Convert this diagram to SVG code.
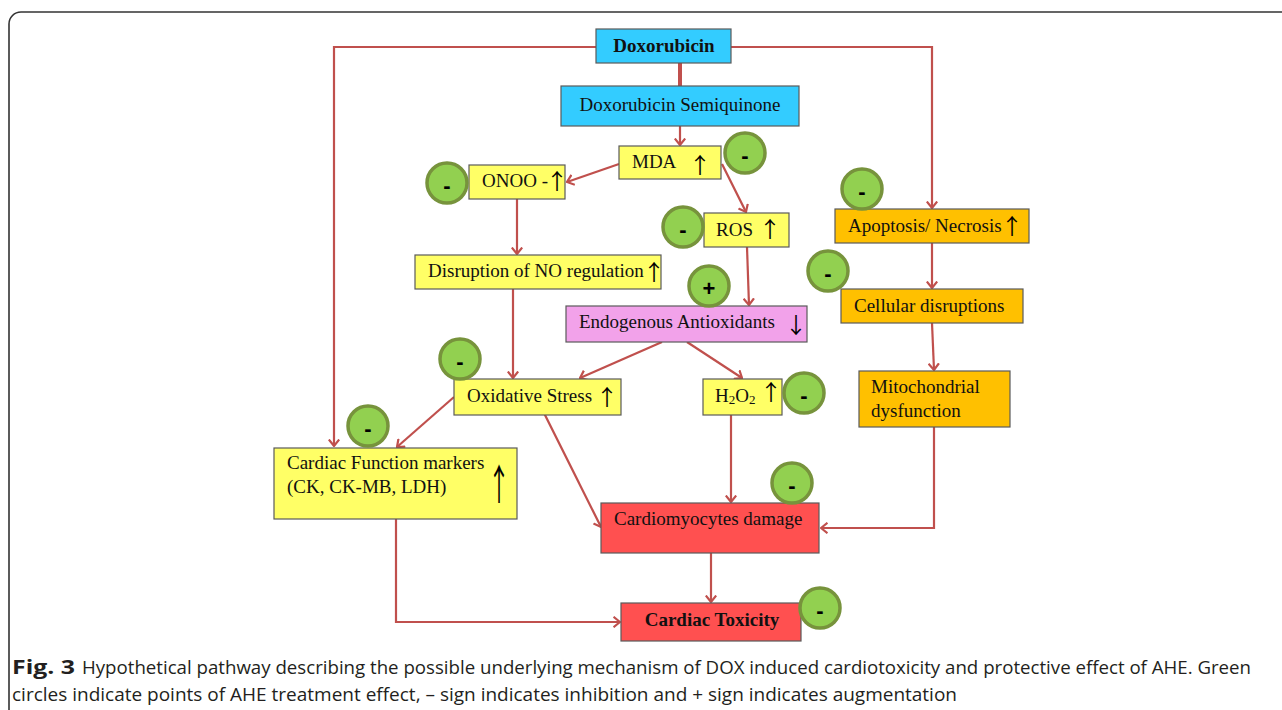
<svg xmlns="http://www.w3.org/2000/svg" width="1282" height="710" viewBox="0 0 1282 710">
<style>
.box{stroke:#5a5a5a;stroke-width:1.2}
.cyan{fill:#33CCFF}
.yel{fill:#FFFF66}
.pink{fill:#F2A2EA}
.org{fill:#FFC000}
.red{fill:#FF5050}
.t{font-family:"Liberation Serif","Times New Roman",serif;font-size:19px;fill:#111}
.b{font-weight:bold}
.ar{font-family:"Noto Sans CJK SC","DejaVu Sans",sans-serif;font-size:22px;fill:#000;text-anchor:middle}
.c{fill:#92D050;stroke:#77933C;stroke-width:3.5}
.s{font-family:"Liberation Sans",Arial,sans-serif;font-weight:bold;font-size:22px;text-anchor:middle;fill:#000}
.ln{fill:none;stroke:#C0504D;stroke-width:2.2}
.cap{font-family:"Open Sans","Liberation Sans",sans-serif;font-size:19px;fill:#231F20}
</style>
<defs>
<marker id="ah" viewBox="0 0 8 12" refX="7" refY="6" markerWidth="8" markerHeight="12" markerUnits="userSpaceOnUse" orient="auto">
<path d="M0.5,0.8 L7,6 L0.5,11.2" fill="none" stroke="#C0504D" stroke-width="2.2"/>
</marker>
</defs>
<rect x="9" y="12" width="1300" height="730" rx="12" fill="#fff" stroke="#333" stroke-width="1.6"/>

<g id="connectors">
<path class="ln" d="M596,47 H334 V446" marker-end="url(#ah)"/>
<path class="ln" d="M731,47 H932 V208" marker-end="url(#ah)"/>
<path class="ln" d="M680,63 V86" style="stroke-width:4"/>
<path class="ln" d="M680,126 V145" marker-end="url(#ah)"/>
<path class="ln" d="M619,164 L567,182" marker-end="url(#ah)"/>
<path class="ln" d="M722,164 L746,212" marker-end="url(#ah)"/>
<path class="ln" d="M517,199 V254" marker-end="url(#ah)"/>
<path class="ln" d="M747,247 L749,305" marker-end="url(#ah)"/>
<path class="ln" d="M513,289 V378" marker-end="url(#ah)"/>
<path class="ln" d="M662,342 L580,378" marker-end="url(#ah)"/>
<path class="ln" d="M687,342 L742,378" marker-end="url(#ah)"/>
<path class="ln" d="M454,397 L397,447" marker-end="url(#ah)"/>
<path class="ln" d="M544,413 L601,527" marker-end="url(#ah)"/>
<path class="ln" d="M731,415 V502" marker-end="url(#ah)"/>
<path class="ln" d="M932,243 V288" marker-end="url(#ah)"/>
<path class="ln" d="M932,323 L934,370" marker-end="url(#ah)"/>
<path class="ln" d="M934,427 V528 H821" marker-end="url(#ah)"/>
<path class="ln" d="M396,519 V622 H620" marker-end="url(#ah)"/>
<path class="ln" d="M711,553 V602" marker-end="url(#ah)"/>
</g>

<g id="doxorubicin">
<rect class="box cyan" x="596" y="29" width="135" height="34"/>
<text class="t b" x="664" y="52" text-anchor="middle">Doxorubicin</text>
</g>
<g id="semiquinone">
<rect class="box cyan" x="561" y="86" width="238" height="40"/>
<text class="t" x="680" y="111" text-anchor="middle">Doxorubicin Semiquinone</text>
</g>
<g id="mda">
<rect class="box yel" x="619" y="146" width="102" height="33"/>
<text class="t" x="632" y="168">MDA<tspan class="ar" x="700" y="173">↑</tspan></text>
</g>
<g id="onoo">
<rect class="box yel" x="469" y="165" width="96" height="34"/>
<text class="t" x="482" y="187">ONOO -<tspan class="ar" x="557" y="189">↑</tspan></text>
</g>
<g id="ros">
<rect class="box yel" x="704" y="213" width="85" height="34"/>
<text class="t" x="716" y="236">ROS<tspan class="ar" x="770" y="237">↑</tspan></text>
</g>
<g id="disruption">
<rect class="box yel" x="415" y="255" width="246" height="34"/>
<text class="t" x="428" y="277">Disruption of NO regulation<tspan class="ar" x="654" y="280">↑</tspan></text>
</g>
<g id="endogenous">
<rect class="box pink" x="566" y="306" width="241" height="36"/>
<text class="t" x="579" y="328">Endogenous Antioxidants<tspan class="ar" x="796" y="333">↓</tspan></text>
</g>
<g id="oxidative">
<rect class="box yel" x="454" y="379" width="167" height="36"/>
<text class="t" x="467" y="402">Oxidative Stress<tspan class="ar" x="607" y="405">↑</tspan></text>
</g>
<g id="h2o2">
<rect class="box yel" x="703" y="379" width="79" height="36"/>
<text class="t" x="715" y="402">H<tspan font-size="13" dy="2">2</tspan><tspan dy="-2">O</tspan><tspan font-size="13" dy="2">2</tspan><tspan class="ar" x="771" y="400">↑</tspan></text>
</g>
<g id="apoptosis">
<rect class="box org" x="835" y="209" width="194" height="34"/>
<text class="t" x="848" y="232">Apoptosis/ Necrosis<tspan class="ar" x="1012" y="234">↑</tspan></text>
</g>
<g id="cellular">
<rect class="box org" x="841" y="289" width="182" height="34"/>
<text class="t" x="854" y="312">Cellular disruptions</text>
</g>
<g id="mitochondrial">
<rect class="box org" x="859" y="371" width="151" height="56"/>
<text class="t" x="871" y="393">Mitochondrial</text>
<text class="t" x="871" y="417">dysfunction</text>
</g>
<g id="cardiac-function">
<rect class="box yel" x="274" y="448" width="243" height="71"/>
<text class="t" x="287" y="469">Cardiac Function markers</text>
<text class="t" x="287" y="493">(CK, CK-MB, LDH)</text>
<text class="ar" transform="translate(499,500) scale(1,1.9)">↑</text>
</g>
<g id="cardiomyocytes">
<rect class="box red" x="601" y="503" width="218" height="50"/>
<text class="t" x="614" y="525">Cardiomyocytes damage</text>
</g>
<g id="cardiac-toxicity">
<rect class="box red" x="621" y="603" width="180" height="38"/>
<text class="t b" x="712" y="626" text-anchor="middle">Cardiac Toxicity</text>
</g>

<g id="effects">
<circle class="c" cx="745" cy="153" r="20"/><text class="s" x="745" y="163">-</text>
<circle class="c" cx="447" cy="183" r="20"/><text class="s" x="447" y="193">-</text>
<circle class="c" cx="683" cy="227" r="20"/><text class="s" x="683" y="237">-</text>
<circle class="c" cx="709" cy="286" r="20"/><text class="s" x="709" y="296">+</text>
<circle class="c" cx="460" cy="359" r="20"/><text class="s" x="460" y="369">-</text>
<circle class="c" cx="804" cy="393" r="20"/><text class="s" x="804" y="403">-</text>
<circle class="c" cx="862" cy="189" r="20"/><text class="s" x="862" y="199">-</text>
<circle class="c" cx="828" cy="271" r="20"/><text class="s" x="828" y="281">-</text>
<circle class="c" cx="368" cy="426" r="20"/><text class="s" x="368" y="436">-</text>
<circle class="c" cx="792" cy="483" r="20"/><text class="s" x="792" y="493">-</text>
<circle class="c" cx="820" cy="608" r="20"/><text class="s" x="820" y="618">-</text>
</g>

<g id="caption">
<text class="cap" x="12" y="674" font-weight="bold" textLength="63" lengthAdjust="spacingAndGlyphs">Fig. 3</text>
<text class="cap" x="82" y="674" textLength="1169" lengthAdjust="spacingAndGlyphs">Hypothetical pathway describing the possible underlying mechanism of DOX induced cardiotoxicity and protective effect of AHE. Green</text>
<text class="cap" x="12" y="701" textLength="945" lengthAdjust="spacingAndGlyphs">circles indicate points of AHE treatment effect, – sign indicates inhibition and + sign indicates augmentation</text>
</g>
</svg>
